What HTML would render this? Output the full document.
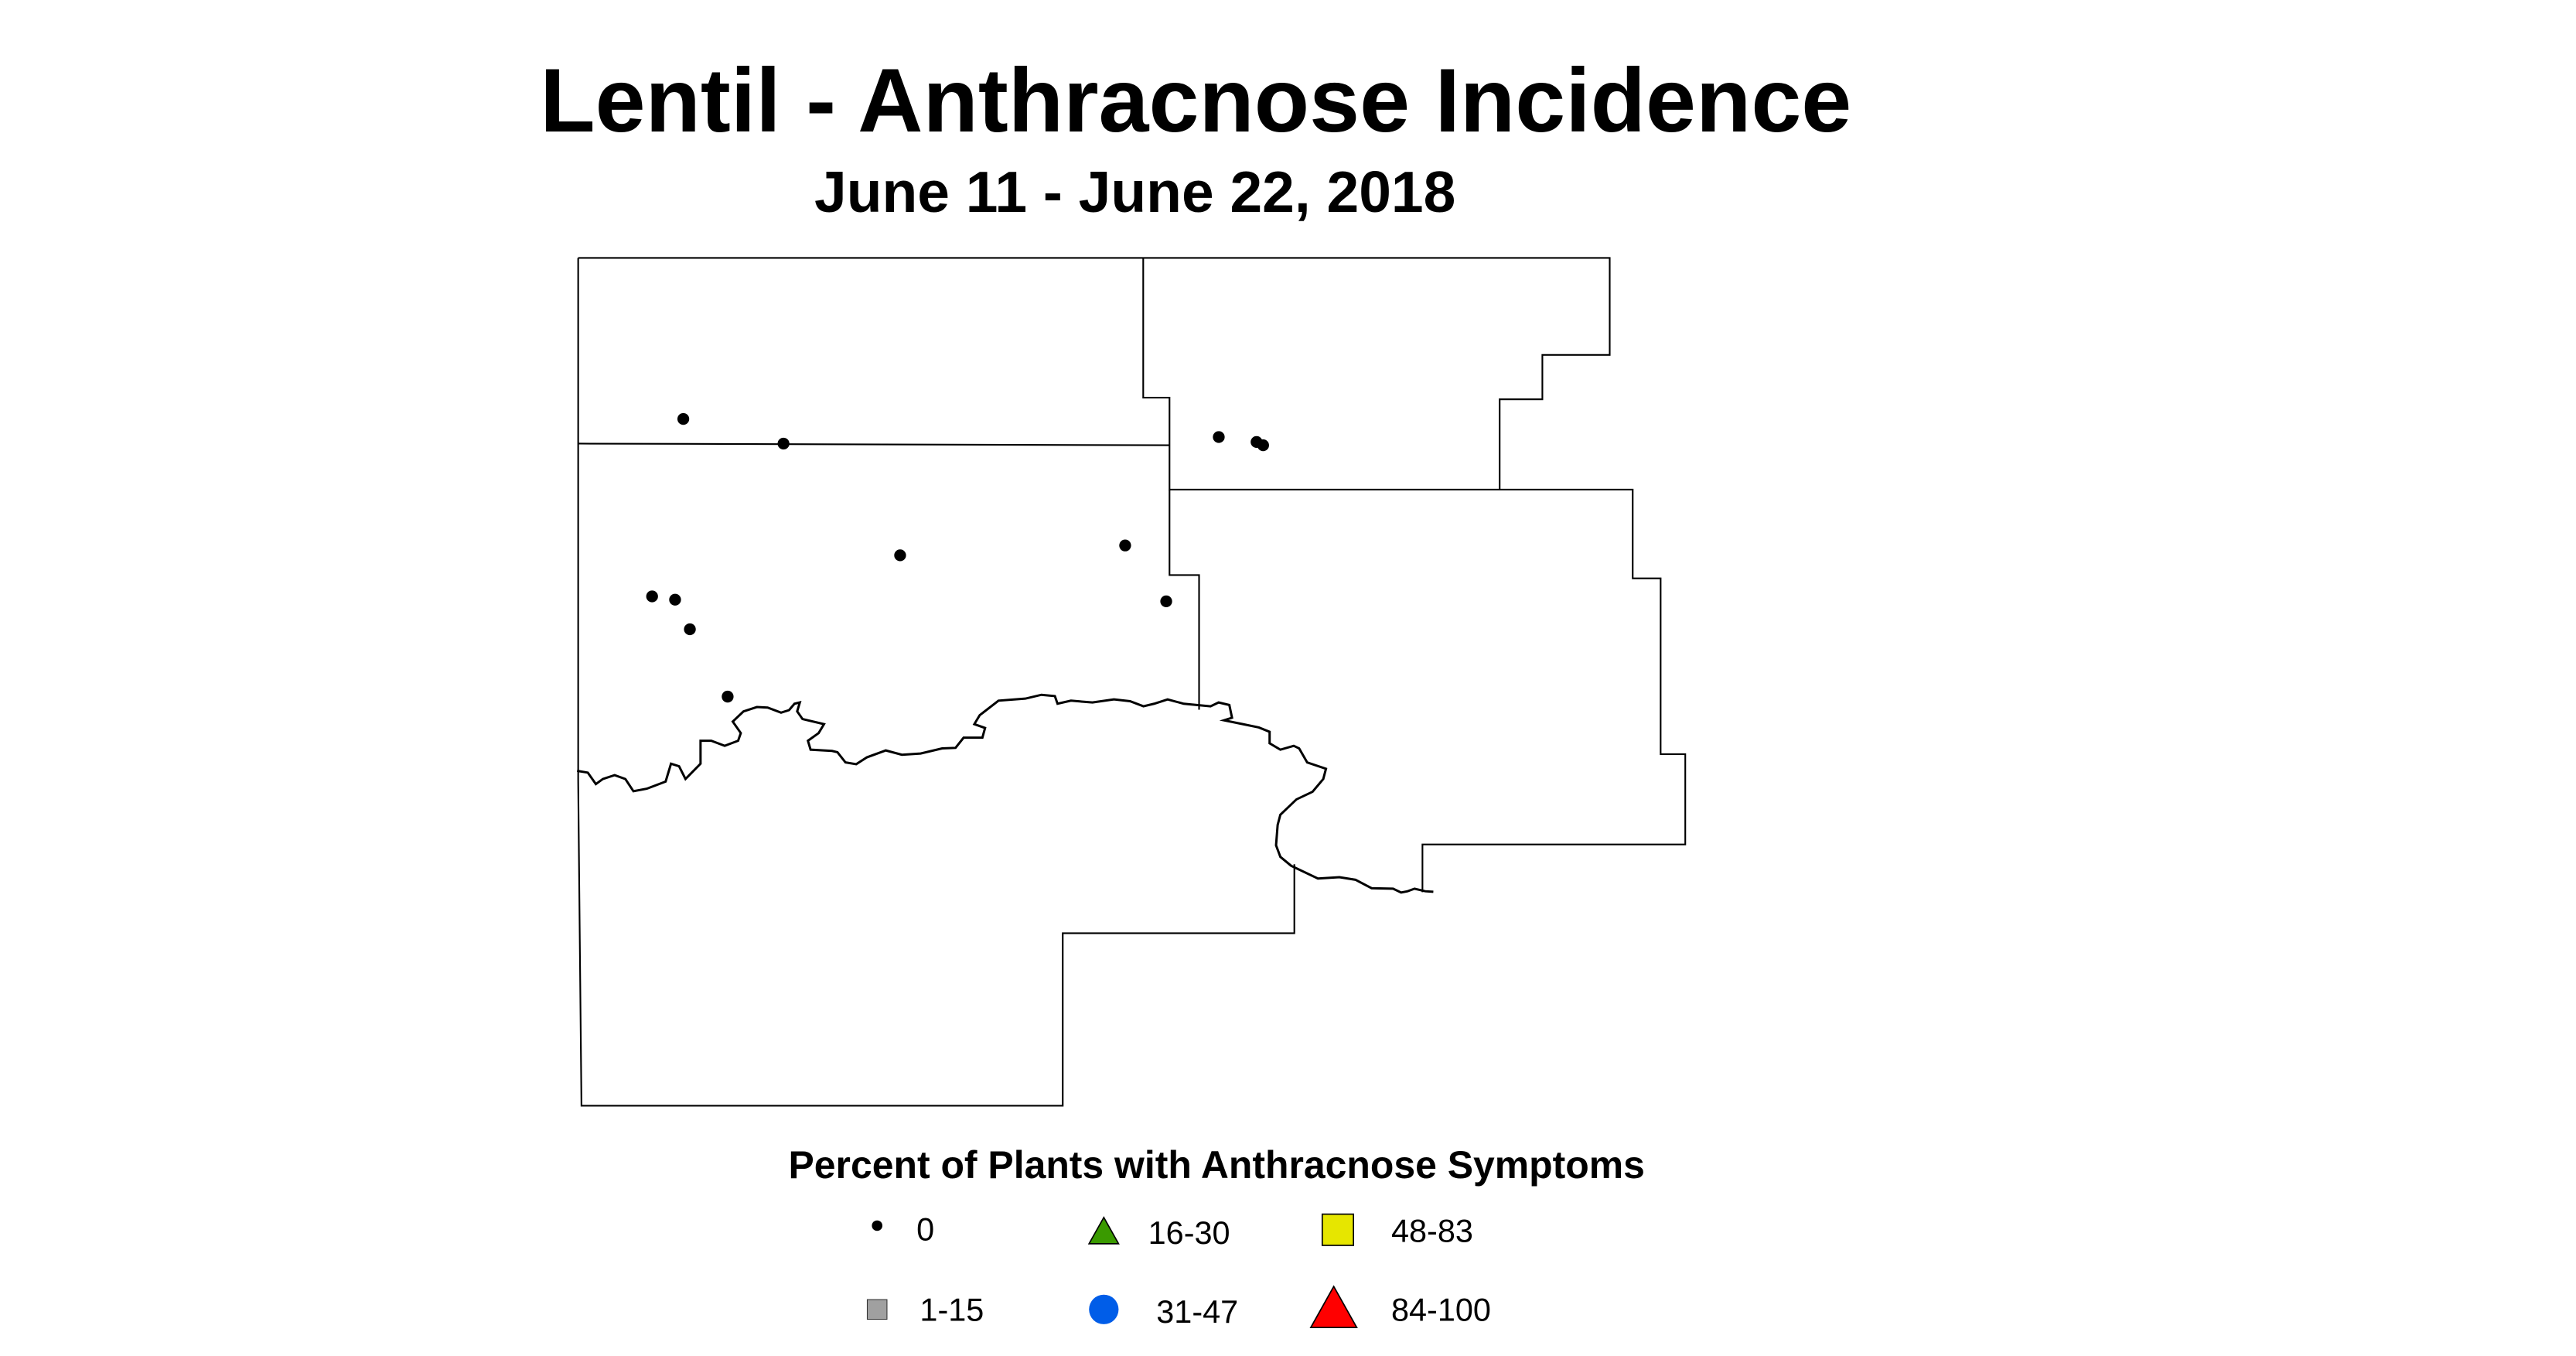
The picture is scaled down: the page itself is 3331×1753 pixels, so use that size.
<!DOCTYPE html>
<html><head><meta charset="utf-8"><style>html,body{margin:0;padding:0;background:#fff}svg{display:block}</style></head>
<body>
<svg width="3331" height="1753" viewBox="0 0 3331 1753" xmlns="http://www.w3.org/2000/svg" font-family="Liberation Sans, Arial, sans-serif">
<rect width="3331" height="1753" fill="#fff"/>
<g transform="scale(0.9896)">
<g transform="scale(2.1463)">
<text x="728" y="80" font-size="55" font-weight="bold" text-anchor="middle">Lentil - Anthracnose Incidence</text>
<text x="691" y="129" font-size="35.3" font-weight="bold" text-anchor="middle">June 11 - June 22, 2018</text>
<g fill="none" stroke="#000" stroke-width="1">
<path d="M352,157 L980,157 L980,216 L939,216 L939,243 L913,243 L913,298 L994,298 L994,352 L1011,352 L1011,459 L1026,459 L1026,514 L866,514 L866,543"/>
<path d="M696,157 L696,242 L712,242 L712,298 L913,298"/>
<path d="M352,270 L712,271"/>
<path d="M712,298 L712,350 L730,350 L730,432"/>
<path d="M352,157 L352,475 L354,673 L647,673 L647,568 L788,568 L788,526"/>
</g>
<g fill="#000">
<circle cx="416" cy="255" r="3.6"/><circle cx="477" cy="270" r="3.6"/>
<circle cx="742" cy="266" r="3.6"/><circle cx="765" cy="269" r="3.6"/><circle cx="769" cy="271" r="3.6"/>
<circle cx="548" cy="338" r="3.6"/><circle cx="685" cy="332" r="3.6"/><circle cx="710" cy="366" r="3.6"/>
<circle cx="397" cy="363" r="3.6"/><circle cx="411" cy="365" r="3.6"/><circle cx="420" cy="383" r="3.6"/>
<circle cx="443" cy="424" r="3.6"/>
</g>
<g transform="translate(-5,-7)">
<text x="485" y="724" font-size="23.5" font-weight="bold">Percent of Plants with Anthracnose Symptoms</text>
<g font-size="19.5">
<circle cx="539" cy="753" r="3.2" fill="#000"/><text x="563" y="762">0</text>
<rect x="533" y="798" width="12" height="12" fill="#a0a0a0" stroke="#333" stroke-width="0.5"/><text x="565" y="811">1-15</text>
<polygon points="677,748 668,764 686,764" fill="#3a9a00" stroke="#000" stroke-width="0.8"/><text x="704" y="764">16-30</text>
<circle cx="677" cy="804" r="9" fill="#005de8"/><text x="709" y="812">31-47</text>
<rect x="810" y="746" width="19" height="19" fill="#e6e600" stroke="#000" stroke-width="0.8"/><text x="852" y="763">48-83</text>
<polygon points="817,790 803,815 831,815" fill="#ff0000" stroke="#000" stroke-width="0.8"/><text x="852" y="811">84-100</text>
</g>
</g>
</g>
<g transform="translate(740,871) scale(0.7015,0.3333)">
<path vector-effect="non-scaling-stroke" fill="none" stroke="#000" stroke-width="3" d="M20,408 L40,415 L55,460 L68,440 L90,425 L110,440 L125,488 L150,478 L185,450 L195,380 L210,390 L222,440 L250,380 L250,290 L270,290 L295,310 L320,290 L325,260 L310,215 L330,175 L355,158 L375,160 L400,180 L415,170 L425,145 L435,140 L430,175 L440,205 L480,225 L470,260 L450,290 L455,325 L495,330 L505,335 L520,375 L540,382 L560,355 L595,328 L625,345 L660,340 L700,320 L725,318 L740,278 L775,278 L780,240 L760,225 L770,190 L805,133 L855,125 L885,110 L910,115 L915,145 L940,133 L980,140 L1020,128 L1050,135 L1075,155 L1095,145 L1120,128 L1150,145 L1200,155 L1215,140 L1235,150 L1240,200 L1225,210 L1260,225 L1290,238 L1310,255 L1310,300 L1330,325 L1355,310 L1365,320 L1380,375 L1415,400 L1410,440 L1390,490 L1360,520 L1330,580 L1325,620 L1322,700 L1330,745 L1350,780 L1400,830 L1440,825 L1470,835 L1500,868 L1540,870 L1555,885 L1567,880 L1580,870 L1600,880 L1615,882"/>
</g>
</g>
</svg>
</body></html>
